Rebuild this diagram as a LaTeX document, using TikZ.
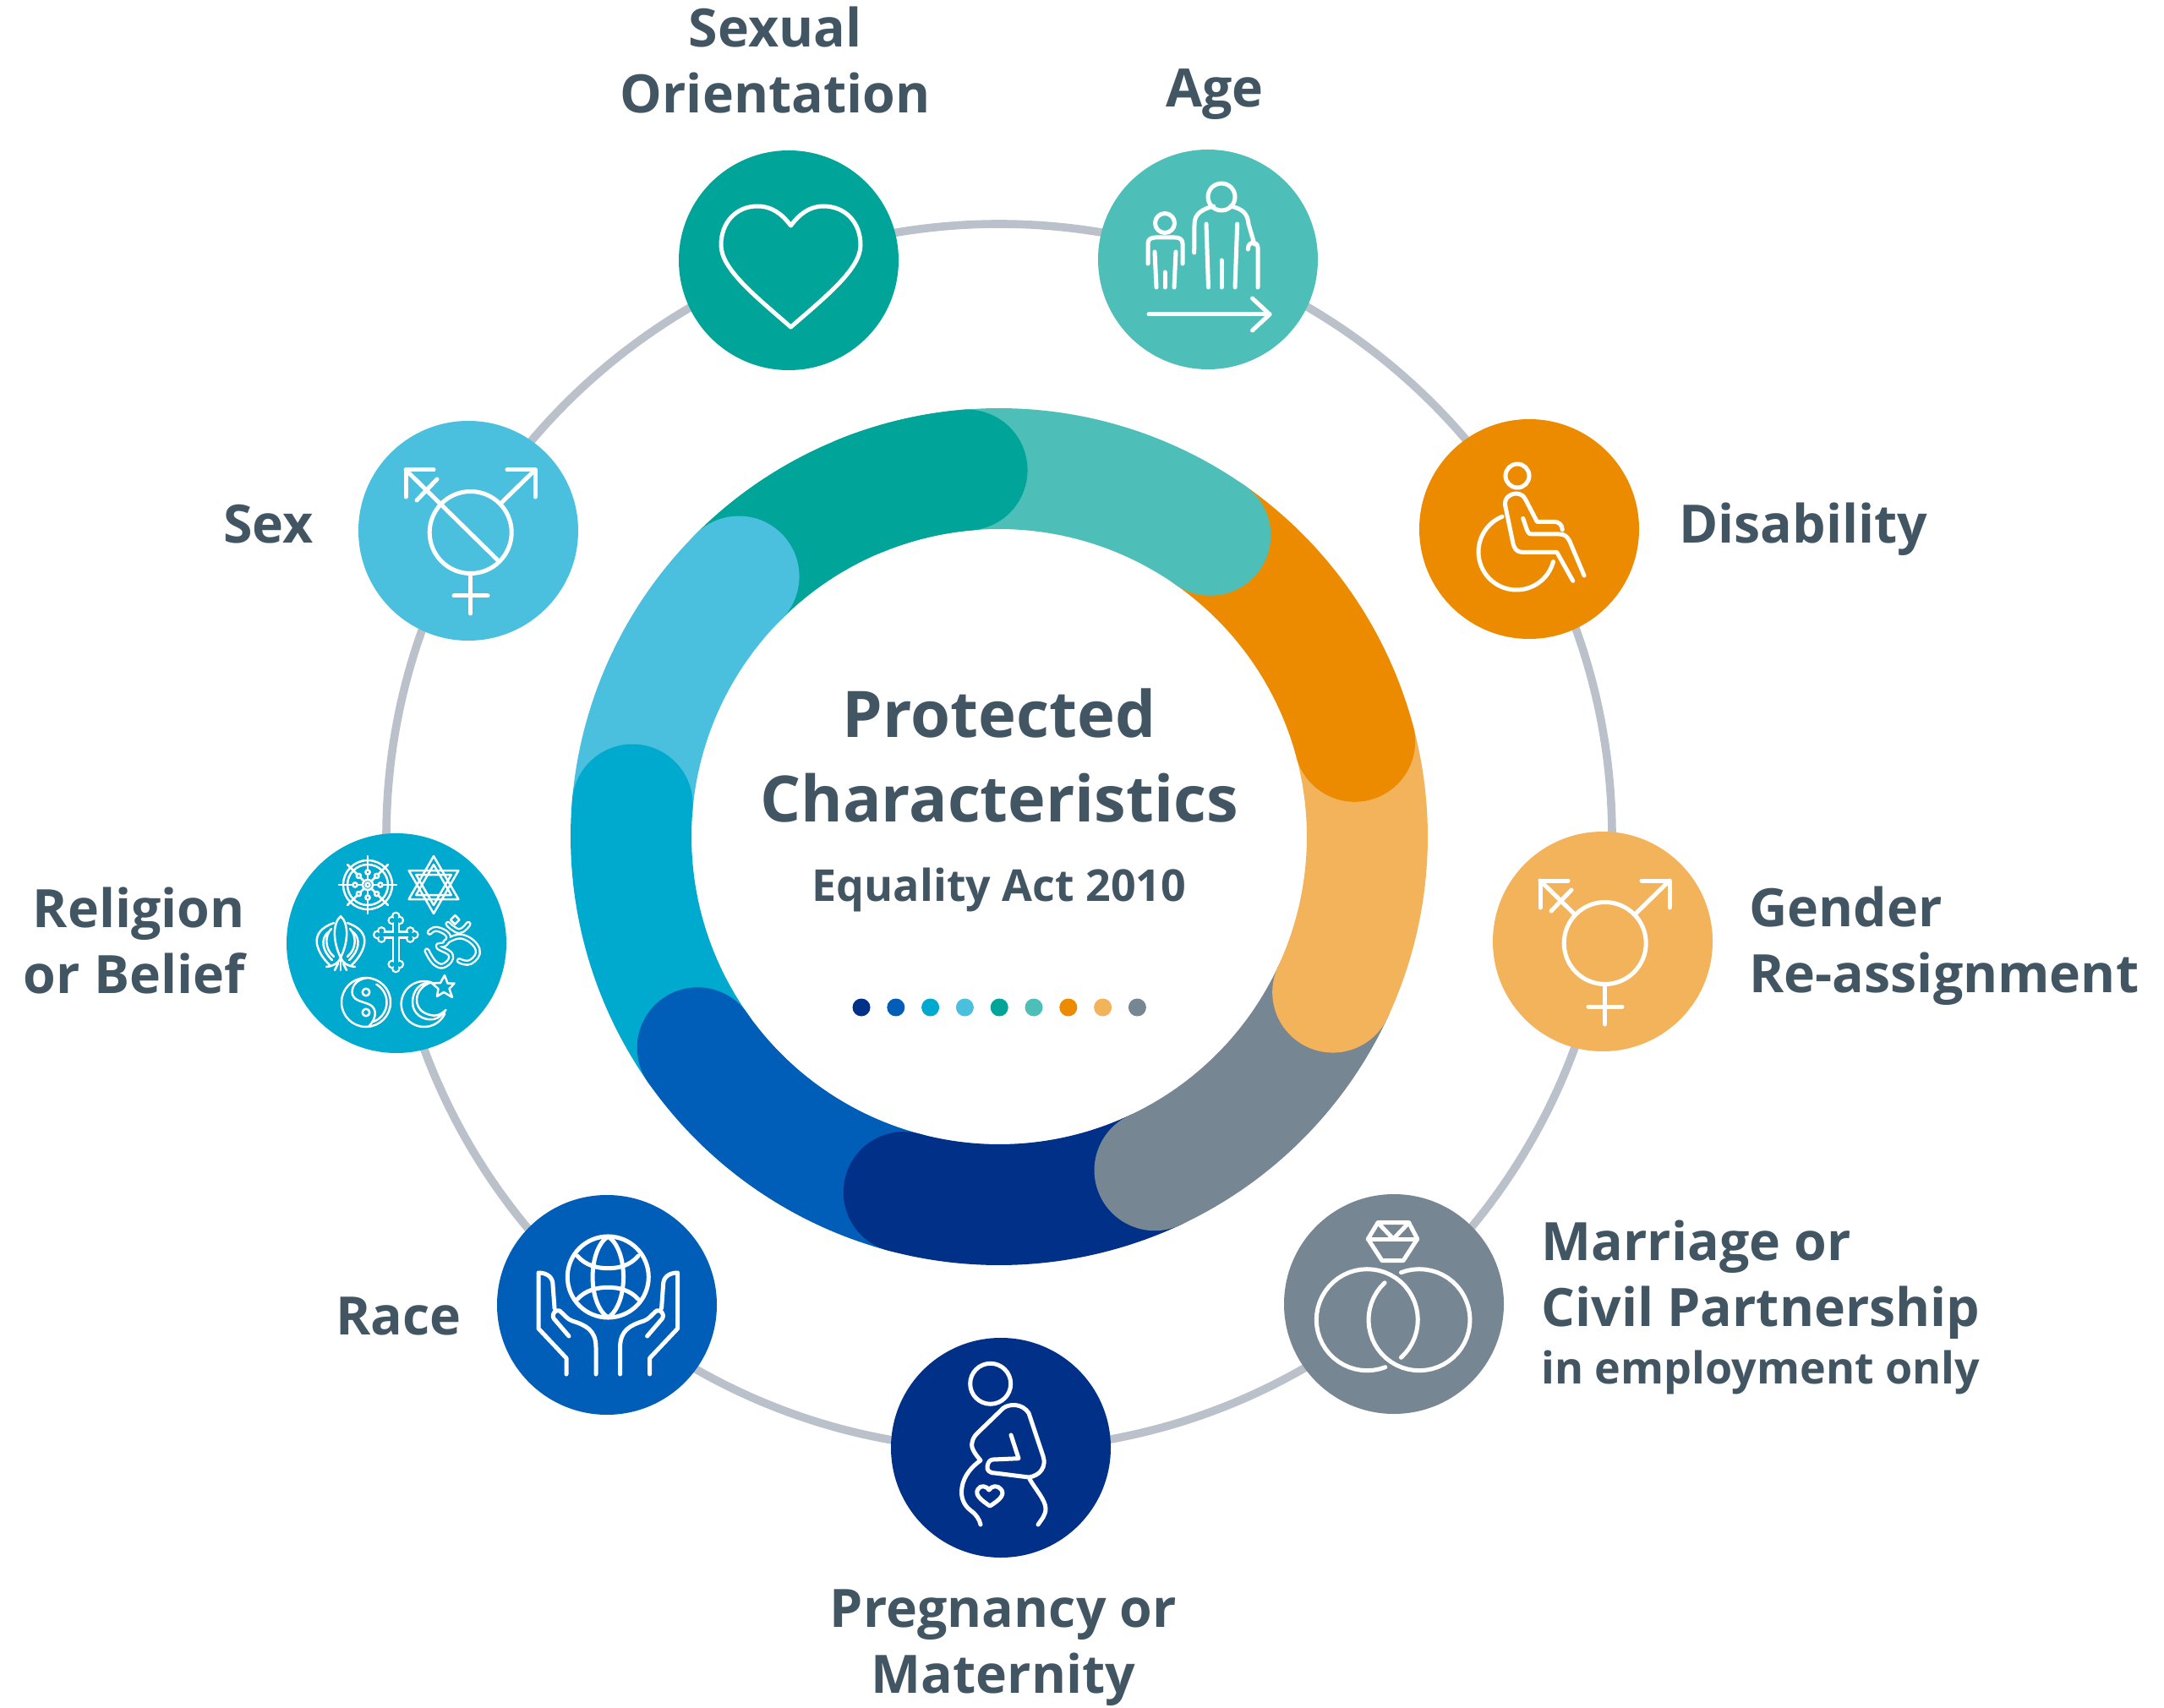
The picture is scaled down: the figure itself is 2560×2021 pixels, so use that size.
\documentclass[tikz,border=0pt]{standalone}
\usepackage{fontspec}
\setmainfont{Open Sans}
\definecolor{csex}{HTML}{4BBFDE}
\definecolor{corient}{HTML}{00A499}
\definecolor{cage}{HTML}{4EBFB8}
\definecolor{cdis}{HTML}{ED8B00}
\definecolor{cgen}{HTML}{F3B35B}
\definecolor{cmar}{HTML}{768692}
\definecolor{cpre}{HTML}{003087}
\definecolor{crac}{HTML}{005EB8}
\definecolor{crel}{HTML}{00A9CE}
\definecolor{ctext}{HTML}{425563}
\definecolor{cring}{HTML}{BAC1CA}
\tikzset{
  badge/.style={circle,minimum size=130pt,inner sep=0pt,outer sep=0pt},
  icon/.style={draw=white,line width=2.5pt,line cap=round,line join=round},
  ticon/.style={draw=white,line width=1.25pt,line cap=round,line join=round},
  wideout/.style={draw=white,line width=3.6pt,line cap=round,line join=round},
  widein/.style={draw=crel,line width=1.2pt,line cap=round,line join=round},
  band/.style={line width=71.5pt,line cap=round},
  dotmark/.style={circle,minimum size=10.5pt,inner sep=0pt,outer sep=0pt},
  lab/.style={text=ctext,font=\bfseries\fontsize{31.3}{39}\selectfont,inner sep=0pt},
}
\newcommand{\bandarc}[3]{\draw[band,#1] plot[domain=#2:#3,samples=40] ({1182+435.5*cos(\x)},{990-435.5*sin(\x)});}
\newcommand{\carc}[5]{plot[domain=#4:#5,samples=50] ({#1+#3*cos(\x)},{#2-#3*sin(\x)})}
\newcommand{\transmark}{%
  \draw[icon] (2.7,2) circle[radius=48.5];
  \draw[icon] (38,-32) -- (79,-72);
  \draw[icon] (46,-72) -- (79,-72) -- (79,-40);
  \draw[icon] (-41,-72) -- (-74,-72) -- (-74,-40);
  \draw[icon] (-37,-61) -- (-61,-36);
  \draw[icon] (2.7,52) -- (2.7,98);
  \draw[icon] (-17,77) -- (23,77);
}
\newcommand{\handpath}{%
  \draw[icon] (-48,82) -- (-48,63) -- (-81,28) -- (-81,-38) .. controls (-70,-38) and (-64,-32) .. (-64,-24) -- (-62,4);
  \draw[icon] (-45,37) -- (-63,16) .. controls (-66,10) and (-60,5) .. (-56,7) .. controls (-50,12) and (-47,17) .. (-41,19) .. controls (-25,24) and (-13,30) .. (-13,50) -- (-13,82);
}
\newcommand{\budlist}{(0,-22),(-4.5,-17),(4.5,-17),(0,40),(-4.5,35),(4.5,35),(-22,0),(-17,-4.5),(-17,4.5),(22,0),(17,-4.5),(17,4.5)}
\begin{document}
\begin{tikzpicture}[x=0.5pt,y=-0.5pt]
\useasboundingbox (0,0) rectangle (2560,2021);
\coordinate (hub) at (1182,990);
% outer ring
\draw[cring,line width=4.8pt] (hub) circle[radius=725];
% central band
\bandarc{corient}{95}{135}
\bandarc{csex}{135}{175}
\bandarc{crel}{175}{215}
\bandarc{crac}{215}{255}
\bandarc{cpre}{255}{295}
\bandarc{cmar}{295}{335}
\bandarc{cgen}{335}{375}
\bandarc{cdis}{15}{55}
\bandarc{cage}{55}{95}
\bandarc{corient}{95}{112}
% badges
\node[badge,fill=corient] (orient) at (933,308) {};
\node[badge,fill=cage] (age) at (1429,307) {};
\node[badge,fill=csex] (sex) at (554,628) {};
\node[badge,fill=cdis] (dis) at (1809,626) {};
\node[badge,fill=crel] (rel) at (469,1116) {};
\node[badge,fill=cgen] (gen) at (1896,1114) {};
\node[badge,fill=crac] (race) at (718,1544) {};
\node[badge,fill=cpre] (preg) at (1184,1713) {};
\node[badge,fill=cmar] (mar) at (1649,1543) {};
% heart
\begin{scope}[shift={(orient)}]
\draw[icon] (2.5,-41) .. controls (-8,-55) and (-20,-64) .. (-37,-64) .. controls (-62,-64) and (-80,-45) .. (-80,-18) .. controls (-80,10) and (-40,42) .. (2.5,79)
 .. controls (45,42) and (85,10) .. (85,-18) .. controls (85,-45) and (67,-64) .. (41,-64) .. controls (25,-64) and (13,-55) .. (2.5,-41) -- cycle;
\end{scope}
% age
\begin{scope}[shift={(age)}]
\draw[icon] (16,-74) circle[radius=16];
\draw[icon] (-16.3,-8) -- (-16,-42) .. controls (-16,-55) and (-5,-60) .. (6.6,-63);
\draw[icon] (27,-63) .. controls (40,-60) and (47,-55) .. (48,-42) -- (55,-18);
\draw[icon] (-2,-42) -- (0.5,33);
\draw[icon] (34.7,-42) -- (32,33);
\draw[icon] (16,1) -- (16,33);
\draw[icon] (59,33) -- (59,-14) .. controls (59,-22) and (47,-22) .. (47.4,-12);
\draw[icon] (-51,-43) circle[radius=11.5];
\draw[icon] (-71,5) -- (-71,-19) .. controls (-71,-24) and (-67,-26) .. (-62,-26) -- (-39,-26) .. controls (-34,-26) and (-30,-24) .. (-30,-19) -- (-30,5);
\draw[icon] (-63,-9) -- (-61,33);
\draw[icon] (-38,-9) -- (-40,33);
\draw[icon] (-51,15) -- (-51,33);
\draw[icon] (-70,65) -- (73,65);
\draw[icon] (52.5,46) -- (73,65) -- (52.5,84);
\end{scope}
% sex
\begin{scope}[shift={(sex)}]
\transmark
\draw[icon] (-74,-72) -- (35,35);
\end{scope}
% gender
\begin{scope}[shift={(gen)}]
\transmark
\draw[icon] (-74,-72) -- (-33,-32);
\end{scope}
% disability
\begin{scope}[shift={(dis)}]
\draw[icon] (-14,-63) circle[radius=14];
\draw[icon] \carc{-15}{27}{45}{112}{345};
\draw[icon] (51.7,61.3) -- (32.7,27.3) -- (-9,27.3) .. controls (-15,27.3) and (-18,22) .. (-19,17.3) -- (-28.3,-27.7) .. controls (-30,-37) and (-22,-42) .. (-15.7,-42) .. controls (-10,-42) and (-6,-39) .. (-4,-34.3) -- (9.3,-8.7) -- (29.3,-8.7) .. controls (35,-8.7) and (39,-5) .. (39.3,0.7);
\draw[icon] (-7.3,-12.7) -- (-3,0) .. controls (-2,3) and (-1,6) .. (3,6) -- (36,6) .. controls (42,6) and (45,9) .. (47.7,14) -- (65,55);
\end{scope}
% religion
\begin{scope}[shift={(rel)}]
 \begin{scope}[shift={(-34,-69)}]
  \draw[ticon] (0,0) circle[radius=29] (0,0) circle[radius=24] (0,0) circle[radius=6] (0,0) circle[radius=2.5];
  \foreach \a in {0,45,...,315}{
    \draw[ticon] ({6*cos(\a)},{6*sin(\a)}) -- ({34*cos(\a)},{34*sin(\a)});
  }
  \foreach \a in {0,45,...,315}{
    \draw[ticon,fill=crel] ({15*cos(\a)},{15*sin(\a)}) circle[radius=2.6];
  }
 \end{scope}
 \begin{scope}[shift={(44,-69)}]
  \draw[ticon] (0,-34) -- (29.4,17) -- (-29.4,17) -- cycle (0,34) -- (29.4,-17) -- (-29.4,-17) -- cycle;
  \draw[ticon] (0,-24) -- (20.8,12) -- (-20.8,12) -- cycle (0,24) -- (20.8,-12) -- (-20.8,-12) -- cycle;
 \end{scope}
 \begin{scope}[shift={(-66,-1)}]
  \draw[ticon] (0,-31) .. controls (-10,-22) and (-9,0) .. (0,18) .. controls (9,0) and (10,-22) .. (0,-31) -- cycle;
  \draw[ticon] (-8,-23) .. controls (-22,-18) and (-30,-10) .. (-28,2) .. controls (-26,12) and (-20,20) .. (-13,27);
  \draw[ticon] (8,-23) .. controls (22,-18) and (30,-10) .. (28,2) .. controls (26,12) and (20,20) .. (13,27);
  \draw[ticon] (-11,-16) .. controls (-19,-8) and (-19,8) .. (-8,17);
  \draw[ticon] (11,-16) .. controls (19,-8) and (19,8) .. (8,17);
  \draw[ticon] (-15,-12) .. controls (-24,-4) and (-22,10) .. (-10,21);
  \draw[ticon] (15,-12) .. controls (24,-4) and (22,10) .. (10,21);
  \draw[ticon] (0,15) -- (0,33);
  \draw[ticon] (-17,29) .. controls (-8,28) and (-3,25) .. (0,18) .. controls (3,25) and (8,28) .. (17,29);
  \draw[ticon] (-7,33) -- (-3,25) (7,33) -- (3,25);
 \end{scope}
 \begin{scope}[shift={(-0.7,-10)}]
  \draw[draw=white,line width=4.8pt,line cap=butt] (0,-20) -- (0,40) (-20,0) -- (20,0);
  \foreach \p in \budlist{
    \fill[white] \p circle[radius=5.4];
  }
  \draw[draw=crel,line width=2.4pt,line cap=butt] (0,-20) -- (0,40) (-20,0) -- (20,0);
  \foreach \p in \budlist{
    \fill[crel] \p circle[radius=3];
  }
 \end{scope}
 \draw[wideout] plot[smooth,tension=.8] coordinates {(39.3,-12.7) (47.7,-16.7) (61,-9.3) (57.7,0.7) (49.3,4) (64.3,14) (57.7,25.7) (46,24) (36,9)};
 \draw[wideout] plot[smooth,tension=.8] coordinates {(57.7,-1) (77.7,-7.7) (96,7.3) (87.7,22.3) (74.3,20.7)};
 \draw[wideout] plot[smooth,tension=.8] coordinates {(61,-22.7) (74.3,-14.3) (85,-22.7)};
 \draw[widein] plot[smooth,tension=.8] coordinates {(39.3,-12.7) (47.7,-16.7) (61,-9.3) (57.7,0.7) (49.3,4) (64.3,14) (57.7,25.7) (46,24) (36,9)};
 \draw[widein] plot[smooth,tension=.8] coordinates {(57.7,-1) (77.7,-7.7) (96,7.3) (87.7,22.3) (74.3,20.7)};
 \draw[widein] plot[smooth,tension=.8] coordinates {(61,-22.7) (74.3,-14.3) (85,-22.7)};
 \draw[ticon] (69.3,-33) -- (74.5,-27.7) -- (69.3,-22.4) -- (64,-27.7) -- cycle;
 \begin{scope}[shift={(-36,70)}]
  \draw[ticon] (0,0) circle[radius=29];
  \draw[ticon] \carc{0}{0}{24.5}{-70}{60};
  \draw[ticon] (1,-29) .. controls (-12,-27) and (-18,-18) .. (-16,-9) .. controls (-13,-1) and (-3,-1) .. (5,3) .. controls (13,8) and (13,18) .. (3,29);
  \draw[ticon] (0,-12) circle[radius=4.3] (0,12) circle[radius=4.3];
 \end{scope}
 \draw[ticon] \carc{32.7}{72}{27}{70}{335};
 \draw[ticon] (41,46.5) .. controls (28,46) and (19,56) .. (19,70) .. controls (19,84) and (32,92) .. (44,90) .. controls (50,89) and (55,84) .. (58.5,79) .. controls (52,85) and (46,87) .. (40,85) .. controls (31,83) and (24,77) .. (24,67) .. controls (24,57) and (32,49) .. (41,46.5);
 \draw[ticon] (57,38) -- (60.5,47.5) -- (68.5,47.5) -- (62.5,54) -- (66,64) -- (56,58) -- (48,63) -- (49.5,54) -- (42,47.5) -- (52,47) -- cycle;
\end{scope}
% race
\begin{scope}[shift={(race)}]
 \draw[icon] (1.3,-33) circle[radius=48];
 \draw[icon] (1.3,-81) .. controls (-23,-65) and (-23,-1) .. (1.3,15) .. controls (25.6,-1) and (25.6,-65) .. (1.3,-81) -- cycle;
 \draw[icon] (-35,-58) .. controls (-25,-46) and (-10,-43.3) .. (1.3,-43.3) .. controls (13,-43.3) and (27,-46) .. (37,-58);
 \draw[icon] (-35,-6.7) .. controls (-25,-18) and (-10,-20.7) .. (1.3,-20.7) .. controls (13,-20.7) and (27,-18) .. (37,-6.7);
 \handpath
 \begin{scope}[shift={(2.6,0)},xscale=-1]
  \handpath
 \end{scope}
\end{scope}
% pregnancy
\begin{scope}[shift={(preg)}]
 \draw[icon] (-12.3,-75.7) circle[radius=24];
 \draw[icon] (-24,91) .. controls (-25,85) and (-30,78) .. (-36,74) .. controls (-44,68) and (-48,58) .. (-46,47) .. controls (-44,33) and (-34,22) .. (-24,15) .. controls (-30,8) and (-36,0) .. (-34,-6) .. controls (-33,-12) and (-30,-15) .. (-27,-18) -- (3,-47) .. controls (10,-52) and (25,-53) .. (33,-41) -- (50,10) .. controls (54,22) and (47,33) .. (33,35) -- (-7,30) .. controls (-14,30) and (-17,26) .. (-16,22) .. controls (-15,17) and (-13,14) .. (-9,14) -- (21,12.7) -- (12,-15);
 \draw[icon] (34,37) .. controls (40,48) and (53,62) .. (53,72) .. controls (53,80) and (48,85) .. (44,91);
 \draw[icon] (-14,50) .. controls (-17,45) and (-24,44) .. (-27,49) .. controls (-31,55) and (-25,61) .. (-13,69) .. controls (0,61) and (5,55) .. (0,49) .. controls (-4,44) and (-11,45) .. (-14,50) -- cycle;
\end{scope}
% marriage
\begin{scope}[shift={(mar)}]
 \draw[icon] \carc{-31.7}{18.7}{60}{-408}{-69};
 \draw[icon] \carc{30}{18.7}{60}{-227}{111};
 \draw[icon] (-30.7,-77) -- (-19,-96.3) -- (17.7,-96.3) -- (27.7,-77) -- (11,-51.3) -- (-14,-51.3) -- cycle;
 \draw[icon] (-30.7,-77) -- (27.7,-77);
 \draw[icon] (-19,-96.3) -- (-0.7,-77) -- (17.7,-96.3);
\end{scope}
% centre text
\node[text=ctext,font=\bfseries\fontsize{38}{47}\selectfont,inner sep=0pt] (t1) at (1182,844) {Protected};
\node[text=ctext,font=\bfseries\fontsize{37.8}{47}\selectfont,inner sep=0pt] (t2) at (1182,944) {Characteristics};
\node[text=ctext,font=\bfseries\fontsize{26}{32}\selectfont,inner sep=0pt] (t3) at (1182,1053) {Equality Act 2010};
\foreach \n/\c [count=\i from 0] in {a/cpre,b/crac,c/crel,d/csex,e/corient,f/cage,g/cdis,h/cgen,k/cmar}{
  \node[dotmark,fill=\c] (dot\n) at ({1019+\i*40.8},1192) {};
}
% labels
\node[lab,align=center] (lorient) at (917,71) {Sexual\\Orientation};
\node[lab] (lage) at (1437,112) {Age};
\node[lab,anchor=west] (ldis) at (1986,626) {Disability};
\node[lab,anchor=west,align=left] (lgen) at (2069,1119) {Gender\\Re-assignment};
\node[lab,anchor=west,align=left] (lmar) at (1823,1547) {Marriage or\\Civil Partnership\\[-5.3pt]{\fontsize{26}{32}\selectfont in employment only}};
\node[lab,align=center] (lpreg) at (1187,1950) {Pregnancy or\\Maternity};
\node[lab,anchor=east] (lrace) at (546,1557) {Race};
\node[lab,anchor=east,align=right] (lrel) at (290,1113) {Religion\\or Belief};
\node[lab,anchor=east] (lsex) at (371,620) {Sex};
\end{tikzpicture}
\end{document}
